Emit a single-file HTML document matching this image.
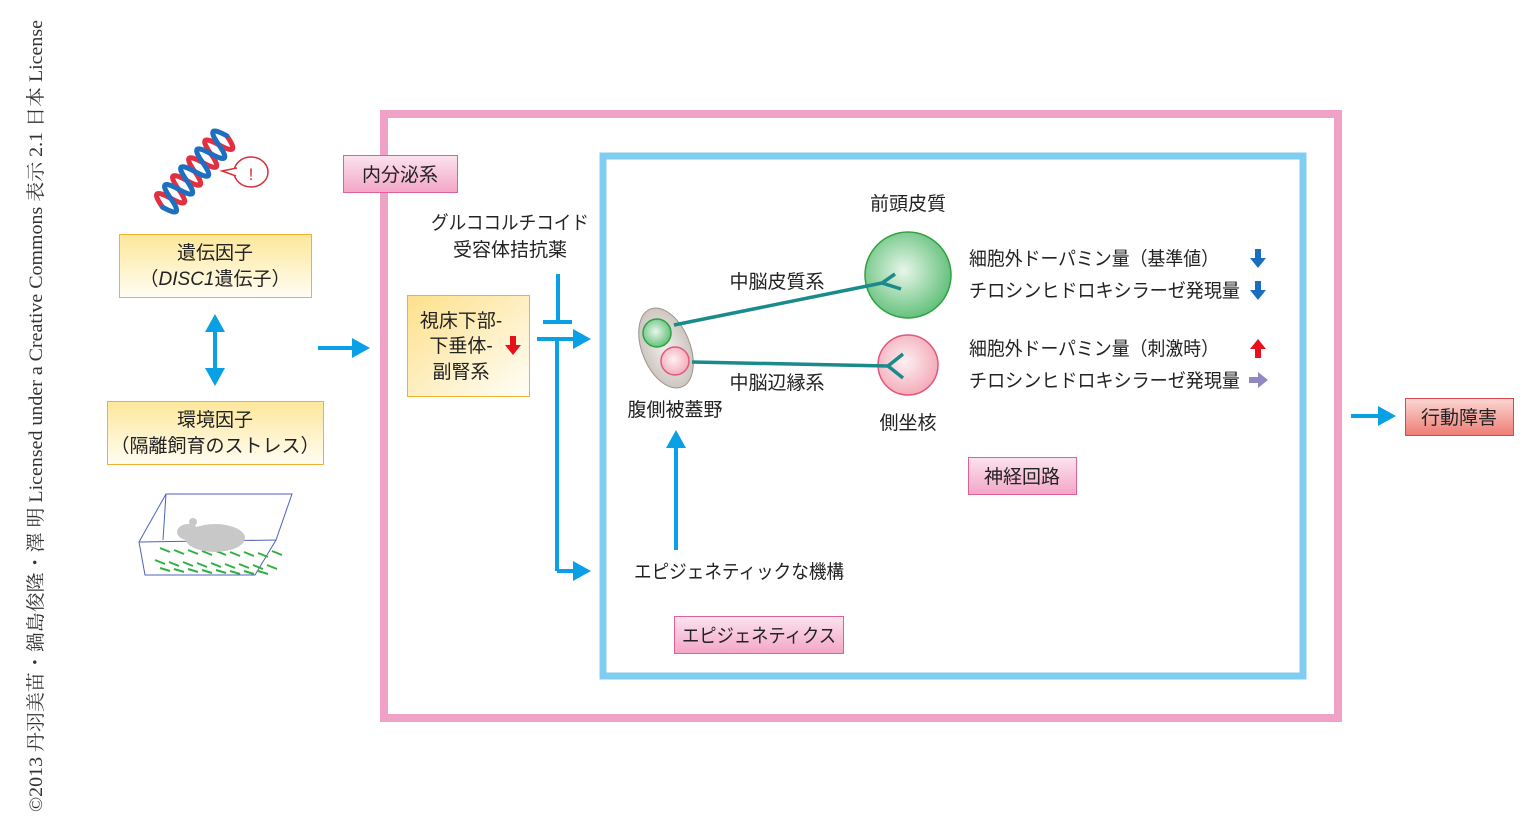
<!DOCTYPE html>
<html><head><meta charset="utf-8"><style>
body{margin:0;background:#fff}
svg text{font-family:"Liberation Sans","Noto Sans CJK JP",sans-serif;fill:#222}
</style></head><body>
<svg width="1539" height="831" viewBox="0 0 1539 831" xmlns="http://www.w3.org/2000/svg">
<defs>
<linearGradient id="yel" x1="0" y1="0" x2="0" y2="1"><stop offset="0" stop-color="#fde79a"/><stop offset="1" stop-color="#fffdf3"/></linearGradient>
<linearGradient id="yel2" x1="0" y1="0" x2="1" y2="1"><stop offset="0" stop-color="#fde08a"/><stop offset="1" stop-color="#fffef8"/></linearGradient>
<linearGradient id="pnk" x1="0" y1="0" x2="0" y2="1"><stop offset="0" stop-color="#fbe3ee"/><stop offset="1" stop-color="#f3a6c6"/></linearGradient>
<linearGradient id="red" x1="0" y1="0" x2="0" y2="1"><stop offset="0" stop-color="#fbd7d3"/><stop offset="1" stop-color="#ee7c74"/></linearGradient>
<radialGradient id="gr" cx="0.45" cy="0.45" r="0.6"><stop offset="0" stop-color="#e8f6ea"/><stop offset="1" stop-color="#5bbd74"/></radialGradient>
<radialGradient id="pk" cx="0.45" cy="0.45" r="0.6"><stop offset="0" stop-color="#fdf0f2"/><stop offset="1" stop-color="#f3a7b5"/></radialGradient>
<radialGradient id="gy" cx="0.5" cy="0.5" r="0.6"><stop offset="0" stop-color="#f2efec"/><stop offset="1" stop-color="#c7bfb8"/></radialGradient>
</defs>

<text transform="translate(42,812) rotate(-90)" textLength="792" lengthAdjust="spacingAndGlyphs" style="font-family:'Liberation Serif','Noto Serif CJK SC',serif;font-size:19px;fill:#333">©2013 丹羽美苗・鍋島俊隆・澤 明 Licensed under a Creative Commons 表示 2.1 日本 License</text>

<!-- frames -->
<rect x="384" y="114" width="954" height="604" fill="none" stroke="#f0a2c6" stroke-width="8"/>
<rect x="603" y="156" width="700" height="520" fill="none" stroke="#80cdf2" stroke-width="7"/>

<!-- DNA -->
<g transform="translate(196,170) rotate(-48)" fill="none" stroke-width="5" stroke-linecap="round">
<path d="M-50,0 Q-44,-26 -38,0 T-26,0 T-14,0 T-2,0 T10,0 T22,0 T34,0 T46,0" stroke="#e33040"/>
<path d="M-50,0 Q-44,26 -38,0 T-26,0 T-14,0 T-2,0 T10,0 T22,0 T34,0 T46,0" stroke="#1f6fc0"/>
</g>
<ellipse cx="251" cy="172" rx="17" ry="15" fill="#fff" stroke="#d5303a" stroke-width="1.5"/>
<path d="M236,176 L222,171 L237,168" fill="#fff" stroke="#d5303a" stroke-width="1.5"/>
<text x="251" y="180" text-anchor="middle" style="font-size:17px;fill:#d5303a">!</text>

<!-- yellow boxes -->
<rect x="119.5" y="234.5" width="192" height="63" fill="url(#yel)" stroke="#f0b030"/>
<text x="215" y="259" text-anchor="middle" font-size="19">遺伝因子</text>
<text x="215" y="285" text-anchor="middle" font-size="19">（<tspan font-style="italic">DISC1</tspan>遺伝子）</text>
<rect x="107.5" y="401.5" width="216" height="63" fill="url(#yel)" stroke="#f0b030"/>
<text x="215" y="426" text-anchor="middle" font-size="19">環境因子</text>
<text x="215" y="452" text-anchor="middle" font-size="19">（隔離飼育のストレス）</text>

<!-- double arrow -->
<line x1="215" y1="328" x2="215" y2="372" stroke="#0aa0e6" stroke-width="4"/>
<path d="M205,332 L215,314 L225,332z M205,368 L215,386 L225,368z" fill="#0aa0e6"/>

<!-- cage -->
<g fill="none" stroke="#5060c0" stroke-width="1">
<path d="M139,542 L166,494 L292,494 L276,540 L255,575 L145,575 Z M139,542 L276,540 M166,494 L163,540 M292,494 L276,540"/>
</g>
<g stroke="#30b040" stroke-width="2" fill="none">
<path d="M160,548 l10,4 m4,-2 l10,4 m4,-4 l10,4 m4,-3 l10,4 m4,-4 l10,4 m4,-3 l10,4 m4,-4 l10,4 m4,-3 l10,4 m4,-6 l10,4"/>
<path d="M155,560 l10,4 m4,-2 l10,4 m4,-4 l10,4 m4,-3 l10,4 m4,-4 l10,4 m4,-3 l10,4 m4,-4 l10,4 m4,-3 l10,4 m4,-4 l10,4"/>
<path d="M160,568 l10,3 m4,-2 l10,3 m4,-3 l10,3 m4,-2 l10,3 m4,-3 l10,3 m4,-2 l10,3 m4,-3 l10,3 m4,-3 l10,3"/>
</g>
<ellipse cx="215" cy="538" rx="30" ry="14" fill="#c8c8c8"/>
<ellipse cx="188" cy="532" rx="11" ry="8" fill="#c8c8c8"/>
<circle cx="193" cy="522" r="4" fill="#c8c8c8"/>

<!-- arrows to frame -->
<line x1="318" y1="348" x2="356" y2="348" stroke="#0aa0e6" stroke-width="4"/>
<path d="M352,338 L370,348 L352,358z" fill="#0aa0e6"/>
<line x1="1351" y1="416" x2="1382" y2="416" stroke="#0aa0e6" stroke-width="4"/>
<path d="M1378,406 L1396,416 L1378,426z" fill="#0aa0e6"/>

<!-- label boxes -->
<rect x="343.5" y="155.5" width="114" height="37" fill="url(#pnk)" stroke="#e0609a"/>
<text x="400" y="181" text-anchor="middle" font-size="19">内分泌系</text>
<rect x="968.5" y="457.5" width="108" height="37" fill="url(#pnk)" stroke="#e0609a"/>
<text x="1022" y="483" text-anchor="middle" font-size="19">神経回路</text>
<rect x="674.5" y="616.5" width="169" height="37" fill="url(#pnk)" stroke="#e0609a"/>
<text x="759" y="642" text-anchor="middle" font-size="19" textLength="154" lengthAdjust="spacingAndGlyphs">エピジェネティクス</text>
<rect x="1405.5" y="398.5" width="108" height="37" fill="url(#red)" stroke="#d84848"/>
<text x="1459" y="424" text-anchor="middle" font-size="19">行動障害</text>

<!-- endocrine -->
<text x="510" y="229" text-anchor="middle" font-size="19" textLength="158" lengthAdjust="spacingAndGlyphs">グルココルチコイド</text>
<text x="510" y="256" text-anchor="middle" font-size="19">受容体拮抗薬</text>
<rect x="407.5" y="295.5" width="122" height="101" fill="url(#yel2)" stroke="#f0b030"/>
<text x="461" y="327" text-anchor="middle" font-size="19">視床下部-</text>
<text x="461" y="352" text-anchor="middle" font-size="19">下垂体-</text>
<text x="461" y="378" text-anchor="middle" font-size="19">副腎系</text>
<path d="M510,336 h6 v9 h5 l-8,10 l-8,-10 h5z" fill="#e8101a"/>
<g stroke="#0aa0e6" stroke-width="4" fill="none">
<line x1="558" y1="274" x2="558" y2="322"/>
<line x1="543" y1="322" x2="572" y2="322"/>
<line x1="537" y1="339" x2="576" y2="339"/>
<line x1="557" y1="339" x2="557" y2="571"/>
<line x1="557" y1="571" x2="576" y2="571"/>
<line x1="676" y1="550" x2="676" y2="446"/>
</g>
<path d="M573,329 L591,339 L573,349z M573,561 L591,571 L573,581z M666,448 L676,430 L686,448z" fill="#0aa0e6"/>

<!-- neural -->
<ellipse cx="666" cy="348" rx="24" ry="42" transform="rotate(-22 666 348)" fill="url(#gy)" stroke="#9c948c"/>
<circle cx="657" cy="333" r="14" fill="url(#gr)" stroke="#30a040" stroke-width="1.5"/>
<circle cx="675" cy="361" r="14" fill="url(#pk)" stroke="#e0587a" stroke-width="1.5"/>
<circle cx="908" cy="275" r="43" fill="url(#gr)" stroke="#30a040" stroke-width="1.5"/>
<circle cx="908" cy="365" r="30" fill="url(#pk)" stroke="#e0587a" stroke-width="1.5"/>
<g stroke="#1a8a8a" stroke-width="3.5" fill="none">
<line x1="674" y1="325" x2="882" y2="283"/>
<path d="M895,274 L882,283 L901,289"/>
<line x1="692" y1="362" x2="888" y2="366"/>
<path d="M903,354 L888,366 L903,378"/>
</g>
<text x="908" y="210" text-anchor="middle" font-size="19">前頭皮質</text>
<text x="777" y="288" text-anchor="middle" font-size="19">中脳皮質系</text>
<text x="777" y="389" text-anchor="middle" font-size="19">中脳辺縁系</text>
<text x="675" y="416" text-anchor="middle" font-size="19">腹側被蓋野</text>
<text x="908" y="429" text-anchor="middle" font-size="19">側坐核</text>
<text x="739" y="578" text-anchor="middle" font-size="19" textLength="210" lengthAdjust="spacingAndGlyphs">エピジェネティックな機構</text>

<text x="969" y="265" font-size="19" textLength="250" lengthAdjust="spacingAndGlyphs">細胞外ドーパミン量（基準値）</text>
<text x="969" y="297" font-size="19" textLength="271" lengthAdjust="spacingAndGlyphs">チロシンヒドロキシラーゼ発現量</text>
<text x="969" y="355" font-size="19" textLength="250" lengthAdjust="spacingAndGlyphs">細胞外ドーパミン量（刺激時）</text>
<text x="969" y="387" font-size="19" textLength="271" lengthAdjust="spacingAndGlyphs">チロシンヒドロキシラーゼ発現量</text>
<path d="M1255,249 h6 v9 h5 l-8,10 l-8,-10 h5z" fill="#1a6ec0"/>
<path d="M1255,281 h6 v9 h5 l-8,10 l-8,-10 h5z" fill="#1a6ec0"/>
<path d="M1255,358 h6 v-9 h5 l-8,-10 l-8,10 h5z" fill="#e8101a"/>
<path d="M1249,377 h9 v-5 l10,8 l-10,8 v-5 h-9z" fill="#9088c0"/>
</svg>
</body></html>
